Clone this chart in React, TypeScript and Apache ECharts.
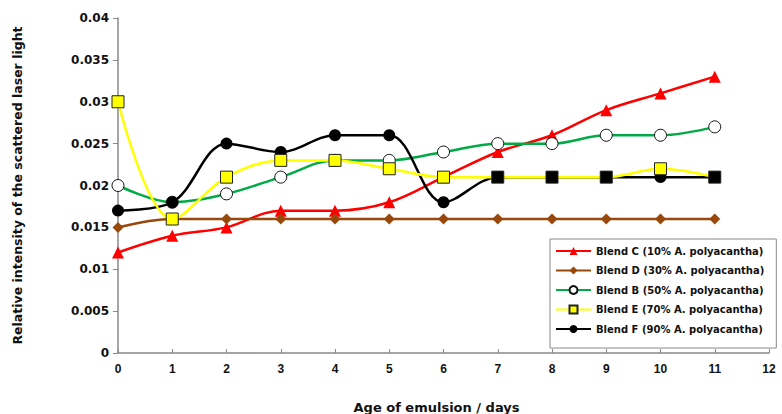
import React, { useEffect, useRef } from "react";
import * as echarts from "echarts";

const days = [0, 1, 2, 3, 4, 5, 6, 7, 8, 9, 10, 11];
const blendC = [0.012, 0.014, 0.015, 0.017, 0.017, 0.018, 0.021, 0.024, 0.026, 0.029, 0.031, 0.033];
const blendD = [0.015, 0.016, 0.016, 0.016, 0.016, 0.016, 0.016, 0.016, 0.016, 0.016, 0.016, 0.016];
const blendB = [0.02, 0.018, 0.019, 0.021, 0.023, 0.023, 0.024, 0.025, 0.025, 0.026, 0.026, 0.027];
const blendE = [0.03, 0.016, 0.021, 0.023, 0.023, 0.022, 0.021, 0.021, 0.021, 0.021, 0.022, 0.021];
const blendF = [0.017, 0.018, 0.025, 0.024, 0.026, 0.026, 0.018, 0.021, 0.021, 0.021, 0.021, 0.021];
const names = [
  "Blend C (10% A. polyacantha)",
  "Blend D (30% A. polyacantha)",
  "Blend B (50% A. polyacantha)",
  "Blend E (70% A. polyacantha)",
  "Blend F (90% A. polyacantha)",
];
const yTicks = [0, 0.005, 0.01, 0.015, 0.02, 0.025, 0.03, 0.035, 0.04];

const FONT = "'Liberation Sans', Arial, sans-serif";
const WIDE = "'DejaVu Sans', sans-serif";

export default function App() {
  const ref = useRef<HTMLDivElement>(null);
  useEffect(() => {
    if (!ref.current) return;
    const chart = echarts.init(ref.current, undefined, { renderer: "svg" });
    const pts = (arr: number[]) => arr.map((v, i) => [days[i], v]);
    const base = {
      type: "line",
      smooth: 0.35,
      z: 2,
    };
    const eData = pts(blendE).map((p, i) =>
      i >= 7 && i !== 10 ? { value: p, itemStyle: { color: "#000000" } } : p
    );
    chart.setOption({
      animation: false,
      backgroundColor: "#ffffff",
      grid: { left: 118, right: 13, top: 18, bottom: 61, containLabel: false, outerBoundsMode: "none" },
      xAxis: {
        type: "value",
        min: 0,
        max: 12,
        interval: 1,
        name: "Age of emulsion / days",
        nameLocation: "middle",
        nameGap: 48,
        nameTextStyle: { fontFamily: WIDE, fontSize: 13, fontWeight: "bold", color: "#111", padding: [0, 14, 0, 0] },
        axisLine: { lineStyle: { color: "#888", width: 1.5 } },
        axisTick: { inside: true, length: 4, lineStyle: { color: "#888" } },
        axisLabel: { fontFamily: FONT, fontSize: 12, fontWeight: "bold", color: "#111", margin: 10 },
        splitLine: { show: false },
      },
      yAxis: {
        type: "value",
        min: 0,
        max: 0.04,
        interval: 0.005,
        name: "Relative intensity of the scattered laser light",
        nameLocation: "middle",
        nameGap: 94,
        nameTextStyle: { fontFamily: WIDE, fontSize: 12.5, fontWeight: "bold", color: "#111" },
        axisLine: { show: true, lineStyle: { color: "#888", width: 1.5 } },
        axisTick: { show: true, length: 5, lineStyle: { color: "#888" } },
        axisLabel: {
          fontFamily: WIDE,
          fontSize: 12,
          fontWeight: "bold",
          color: "#111",
          margin: 9,
          formatter: (v: number) => {
            const t = yTicks.find((x) => Math.abs(x - v) < 1e-9);
            return t === undefined ? "" : String(t);
          },
        },
        splitLine: { show: false },
      },
      legend: {
        orient: "vertical",
        left: 550,
        top: 239,
        itemWidth: 35,
        itemHeight: 10,
        itemGap: 9.5,
        padding: [7, 12, 14, 5],
        borderColor: "#888",
        borderWidth: 1,
        backgroundColor: "#fff",
        textStyle: { fontFamily: WIDE, fontSize: 10, fontWeight: "bold", color: "#111" },
        data: names,
      },
      series: [
        {
          ...base,
          name: names[0],
          data: pts(blendC),
          symbol: "triangle",
          symbolSize: 12,
          lineStyle: { color: "#ff0000", width: 2.5 },
          itemStyle: { color: "#ff0000" },
        },
        {
          ...base,
          name: names[1],
          data: pts(blendD),
          symbol: "diamond",
          symbolSize: 11,
          lineStyle: { color: "#99480c", width: 2.5 },
          itemStyle: { color: "#99480c" },
        },
        {
          ...base,
          name: names[2],
          data: pts(blendB),
          symbol: "circle",
          symbolSize: 12,
          lineStyle: { color: "#00aa44", width: 2.5 },
          itemStyle: { color: "#ffffff", borderColor: "#111", borderWidth: 1 },
        },
        {
          ...base,
          name: names[4],
          data: pts(blendF),
          symbol: "circle",
          symbolSize: 12,
          lineStyle: { color: "#000000", width: 2.5 },
          itemStyle: { color: "#000000" },
        },
        {
          ...base,
          name: names[3],
          data: eData,
          symbol: "rect",
          symbolSize: 12,
          z: 3,
          lineStyle: { color: "#ffff00", width: 2.5 },
          itemStyle: { color: "#ffff00", borderColor: "#222", borderWidth: 1 },
        },
      ],
    });
    return () => chart.dispose();
  }, []);
  return <div ref={ref} style={{ width: 782, height: 414, position: "absolute", left: 0, top: 0 }} />;
}
